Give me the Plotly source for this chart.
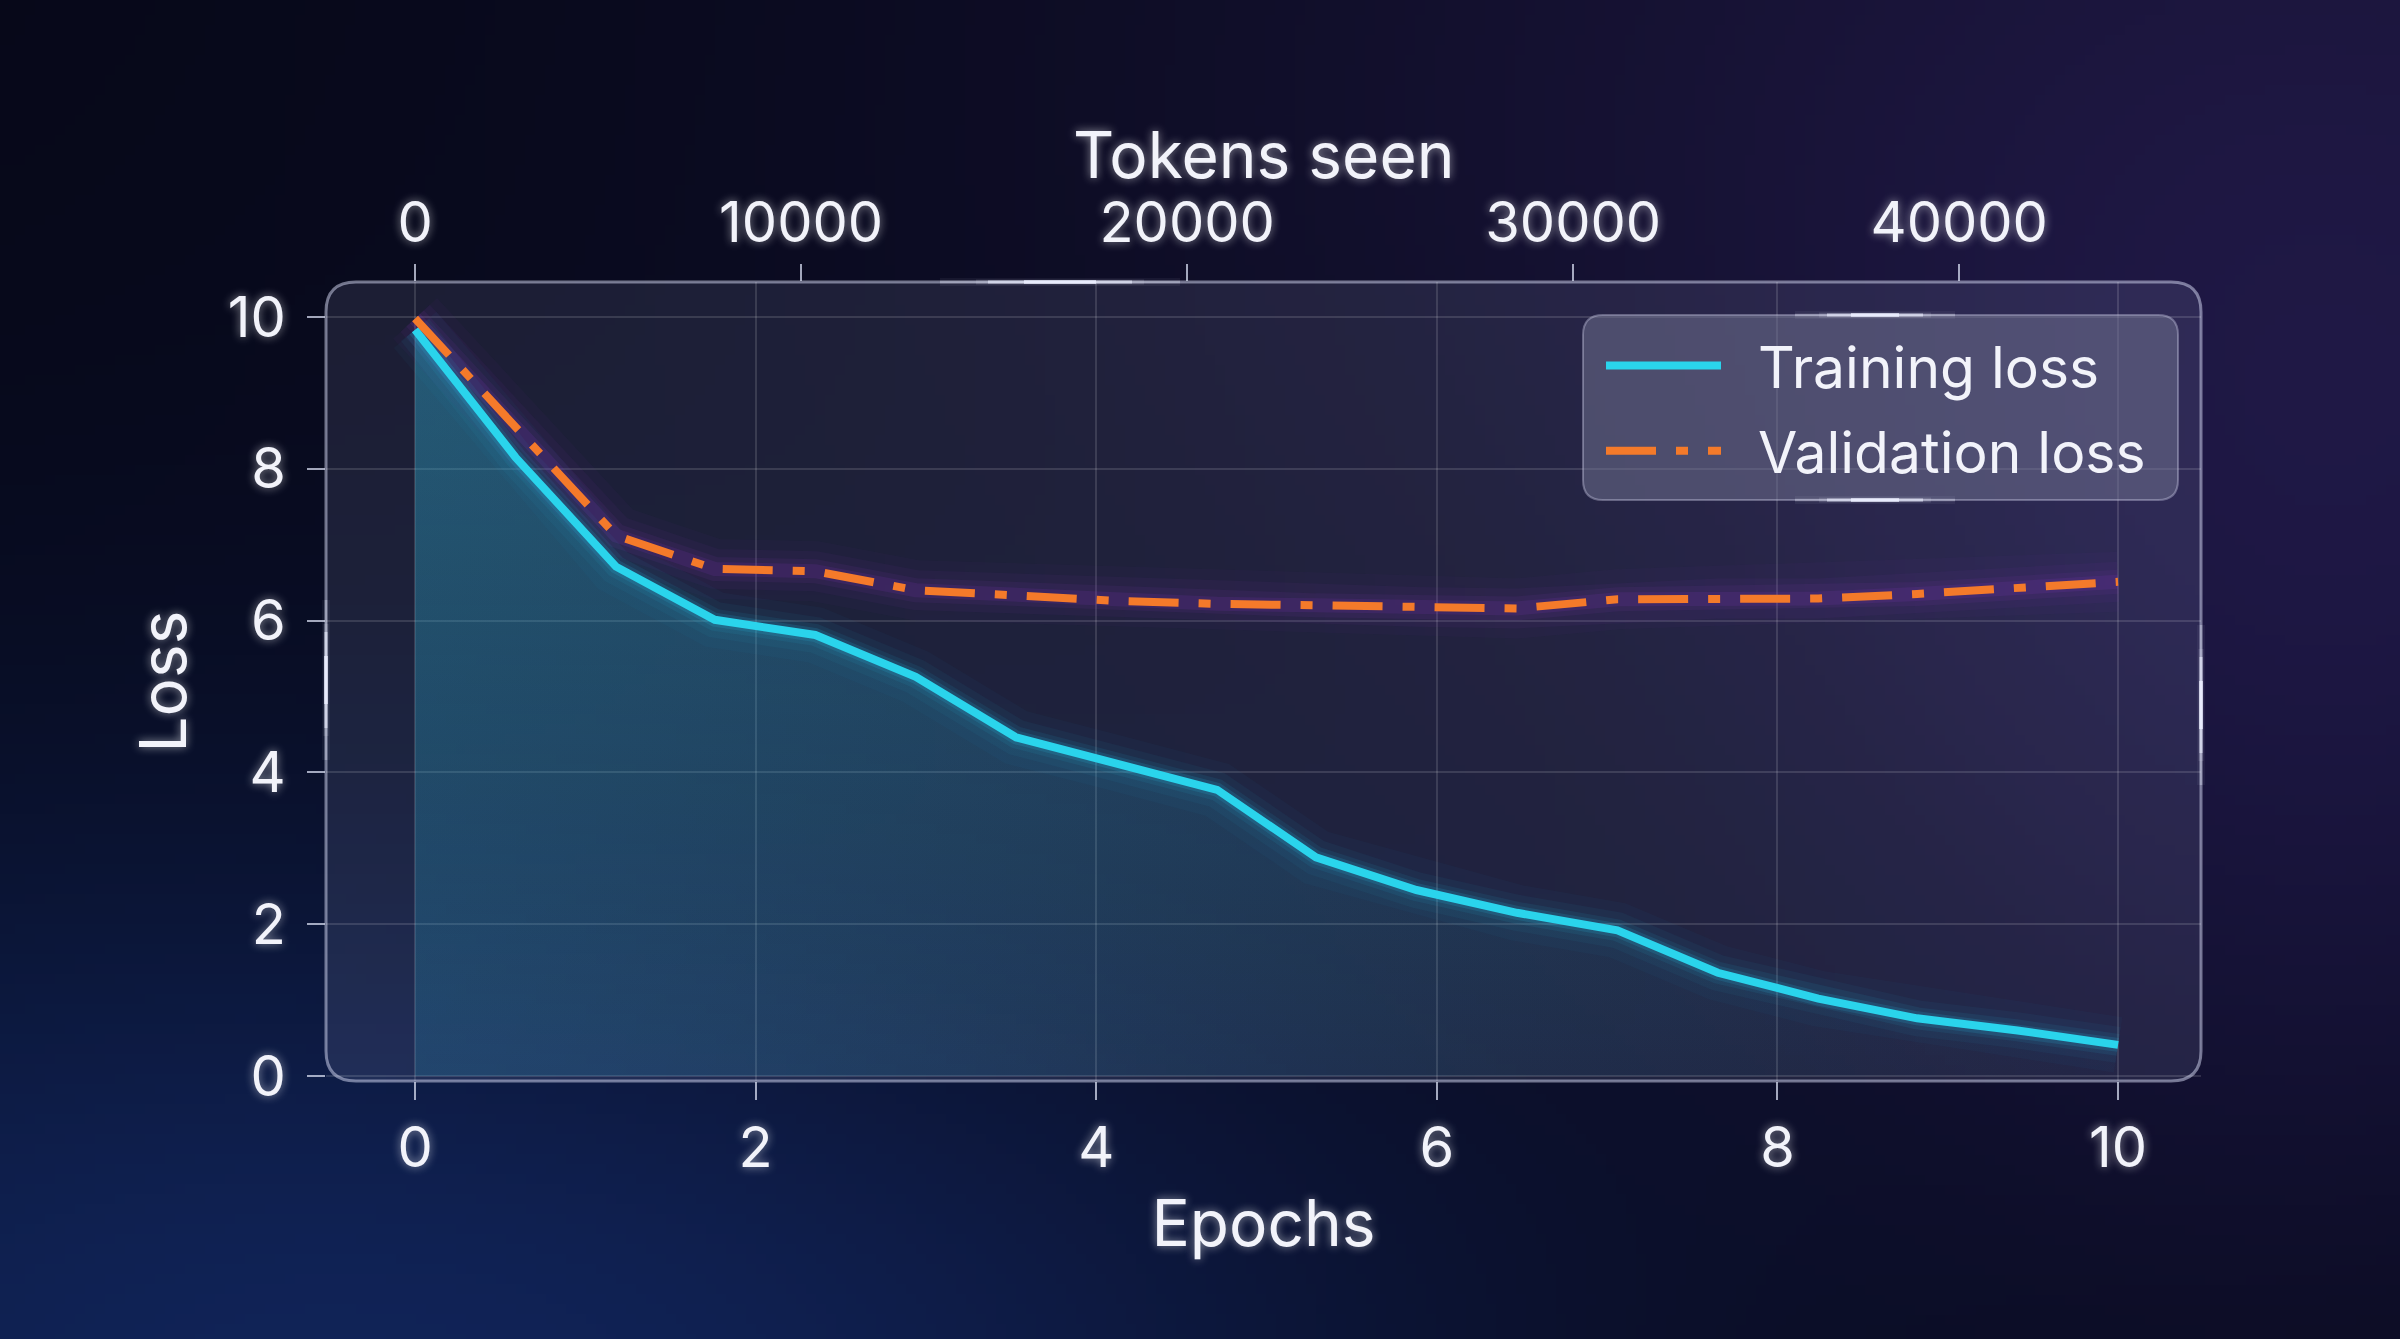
import base64
import struct
import zlib

import numpy as np
import plotly.graph_objects as go

# ---------------- data ----------------
epochs = [0.0, 0.59, 1.18, 1.76, 2.35, 2.94, 3.53, 4.12, 4.71, 5.29,
          5.88, 6.47, 7.06, 7.65, 8.24, 8.82, 9.41, 10.0]
tokens_seen = [0, 2595, 5190, 7785, 10380, 12975, 15570, 18165, 20760, 23355,
               25950, 28545, 31140, 33735, 36330, 38925, 41520, 44115]
train_loss = [9.83, 8.15, 6.71, 6.01, 5.81, 5.26, 4.46, 4.12, 3.77, 2.88,
              2.45, 2.15, 1.92, 1.36, 1.02, 0.76, 0.60, 0.41]
val_loss = [9.98, 8.55, 7.12, 6.68, 6.65, 6.40, 6.33, 6.26, 6.22, 6.20,
            6.18, 6.16, 6.28, 6.29, 6.29, 6.35, 6.43, 6.51]
x_ticks = [0, 2, 4, 6, 8, 10]
y_ticks = [0, 2, 4, 6, 8, 10]
token_ticks = [0, 10000, 20000, 30000, 40000]

# ---------------- geometry ----------------
W, H = 2400, 1339
ML, MR, MT, MB = 326, 199, 282, 258
PW, PH = W - ML - MR, H - MT - MB
x_range = [-0.523, 10.487]
y_range = [-0.066, 10.46]
tok_ratio = tokens_seen[-1] / epochs[-1]
x2_range = [x_range[0] * tok_ratio, x_range[1] * tok_ratio]

CYAN = "#2ad4ec"
ORANGE = "#f47a2a"
TXT = "#f2f3fa"
GLOW = "0px 0px 10px rgba(255,255,255,0.55)"
FONT = "Inter"


# ---------------- background gradient image ----------------
def make_png(arr):
    h, w, _ = arr.shape
    raw = b"".join(b"\x00" + arr[r].tobytes() for r in range(h))

    def chunk(t, d):
        c = struct.pack(">I", len(d)) + t + d
        return c + struct.pack(">I", zlib.crc32(t + d) & 0xFFFFFFFF)

    return (b"\x89PNG\r\n\x1a\n"
            + chunk(b"IHDR", struct.pack(">IIBBBBB", w, h, 8, 2, 0, 0, 0))
            + chunk(b"IDAT", zlib.compress(raw, 9))
            + chunk(b"IEND", b""))


bw, bh = 240, 134
yy, xx = np.mgrid[0:bh, 0:bw]
fx, fy = xx / (bw - 1), yy / (bh - 1)
img = np.zeros((bh, bw, 3), dtype=float)
img[:] = np.array([6, 8, 24], dtype=float)


def blob(cx, cy, rx, ry, col, strength=1.0):
    d = ((fx - cx) / rx) ** 2 + ((fy - cy) / ry) ** 2
    wgt = np.exp(-d) * strength
    return wgt[..., None] * np.array(col, dtype=float)


img += blob(0.95, 0.05, 0.55, 0.6, [19, 12, 32])
img += blob(0.98, 0.55, 0.25, 0.5, [12, 8, 24])
img += blob(0.02, 1.02, 0.45, 0.45, [8, 22, 50])
img += blob(0.35, 1.05, 0.35, 0.3, [4, 10, 24])
img = np.clip(img, 0, 255).astype(np.uint8)
bg_src = "data:image/png;base64," + base64.b64encode(make_png(img)).decode()

# ---------------- figure ----------------
fig = go.Figure()

# fill under training curve (two gradient passes)
fig.add_trace(go.Scatter(
    x=epochs, y=train_loss, mode="lines", line=dict(width=0),
    fill="tozeroy",
    fillgradient=dict(type="horizontal", start=0, stop=10,
                      colorscale=[[0, "rgba(40,165,200,0.20)"],
                                  [1, "rgba(40,165,200,0.01)"]]),
    showlegend=False, hoverinfo="skip"))
fig.add_trace(go.Scatter(
    x=epochs, y=train_loss, mode="lines", line=dict(width=0),
    fill="tozeroy",
    fillgradient=dict(type="vertical", start=0, stop=10,
                      colorscale=[[0, "rgba(40,165,200,0.0)"],
                                  [1, "rgba(55,180,215,0.28)"]]),
    showlegend=False, hoverinfo="skip"))

# glow layers
for wdt, a in [(60, 0.035), (40, 0.05), (24, 0.08), (14, 0.12)]:
    fig.add_trace(go.Scatter(x=epochs, y=val_loss, mode="lines",
                             line=dict(color=f"rgba(150,60,210,{a})", width=wdt),
                             showlegend=False, hoverinfo="skip"))
for wdt, a in [(56, 0.03), (36, 0.05), (22, 0.08), (14, 0.14)]:
    fig.add_trace(go.Scatter(x=epochs, y=train_loss, mode="lines",
                             line=dict(color=f"rgba(40,200,240,{a})", width=wdt),
                             showlegend=False, hoverinfo="skip"))

NB = "\u00a0\u00a0"
fig.add_trace(go.Scatter(x=epochs, y=train_loss, mode="lines", name=NB + "Training loss",
                         line=dict(color=CYAN, width=8), legendgroup="a"))
fig.add_trace(go.Scatter(x=epochs, y=val_loss, mode="lines", name=NB + "Validation loss",
                         line=dict(color=ORANGE, width=8, dash="50px,20px,12px,20px"),
                         legendgroup="b"))
# invisible trace tying tokens axis
fig.add_trace(go.Scatter(x=tokens_seen, y=val_loss, xaxis="x2", mode="lines",
                         line=dict(width=0, color="rgba(0,0,0,0)"),
                         showlegend=False, hoverinfo="skip"))

tickfont = dict(family=FONT, size=56, color=TXT, shadow=GLOW)
titlefont = dict(family=FONT, size=64, color=TXT, shadow=GLOW)
tickcol = "rgba(215,220,240,0.75)"
gridcol = "rgba(255,255,255,0.13)"


def path_rrect(x0, y0, x1, y1, rpx):
    rx, ry = rpx / PW, rpx / PH
    return (f"M{x0+rx},{y0} L{x1-rx},{y0} Q{x1},{y0} {x1},{y0+ry} "
            f"L{x1},{y1-ry} Q{x1},{y1} {x1-rx},{y1} L{x0+rx},{y1} "
            f"Q{x0},{y1} {x0},{y1-ry} L{x0},{y0+ry} Q{x0},{y0} {x0+rx},{y0} Z")


def px2paper(px, py):
    return (px - ML) / PW, (H - MB - py) / PH


shapes = []
# main glass panel
shapes.append(dict(type="path", xref="paper", yref="paper", layer="below",
                   path=path_rrect(0, 0, 1, 1, 30),
                   fillcolor="rgba(175,185,225,0.12)",
                   line=dict(color="rgba(215,220,245,0.5)", width=3)))
# legend glass box
lx0, ly0 = px2paper(1583, 500)
lx1, ly1 = px2paper(2178, 315)
shapes.append(dict(type="path", xref="paper", yref="paper", layer="above",
                   path=path_rrect(lx0, ly0, lx1, ly1, 20),
                   fillcolor="rgba(115,118,148,0.5)",
                   line=dict(color="rgba(220,222,245,0.35)", width=2)))


def highlight(cx, cy, half, vertical=False):
    out = []
    for frac, wdt, a in [(1.0, 8, 0.05), (0.7, 5, 0.12), (1.0, 2.5, 0.3),
                         (0.6, 3, 0.6), (0.3, 3.5, 0.9)]:
        h = half * frac
        if vertical:
            p0, p1 = px2paper(cx, cy - h), px2paper(cx, cy + h)
        else:
            p0, p1 = px2paper(cx - h, cy), px2paper(cx + h, cy)
        out.append(dict(type="line", xref="paper", yref="paper", layer="above",
                        x0=p0[0], y0=p0[1], x1=p1[0], y1=p1[1],
                        line=dict(color=f"rgba(235,238,255,{a})", width=wdt)))
    return out


shapes += highlight(1060, 282, 120)
shapes += highlight(326, 680, 80, vertical=True)
shapes += highlight(2201, 705, 80, vertical=True)
shapes += highlight(1875, 315, 80)
shapes += highlight(1875, 500, 80)

bgx, bgy = px2paper(0, 0)
tx, ty = px2paper((ML + W - MR) / 2, 155)

fig.update_layout(
    width=W, height=H,
    margin=dict(l=ML, r=MR, t=MT, b=MB, pad=0),
    paper_bgcolor="#080a1c",
    plot_bgcolor="rgba(0,0,0,0)",
    font=dict(family=FONT, color=TXT),
    images=[dict(source=bg_src, xref="paper", yref="paper", x=bgx, y=bgy,
                 sizex=W / PW, sizey=H / PH, xanchor="left", yanchor="top",
                 sizing="stretch", layer="below")],
    shapes=shapes,
    annotations=[dict(text="Tokens seen", xref="paper", yref="paper", x=tx, y=ty,
                      xanchor="center", yanchor="middle", showarrow=False,
                      font=titlefont)],
    showlegend=True,
    legend=dict(x=px2paper(1601, 0)[0], y=px2paper(0, 322)[1],
                xanchor="left", yanchor="top",
                bgcolor="rgba(0,0,0,0)", borderwidth=0,
                font=dict(family=FONT, size=57, color=TXT),
                itemwidth=115, tracegroupgap=8),
    xaxis=dict(range=x_range, tickvals=x_ticks, ticks="outside", ticklen=18,
               tickwidth=2, tickcolor=tickcol, showgrid=True, gridcolor=gridcol,
               gridwidth=1.5, zeroline=False, showline=False, tickfont=tickfont,
               title=dict(text="Epochs", font=titlefont, standoff=20)),
    xaxis2=dict(range=x2_range, overlaying="x", side="top", anchor="y",
                tickvals=token_ticks, tickformat="d", ticks="outside", ticklen=17,
                tickwidth=2, tickcolor=tickcol, showgrid=False, zeroline=False,
                showline=False, tickfont=tickfont),
    yaxis=dict(range=y_range, tickvals=y_ticks, ticks="outside", ticklen=18,
               tickwidth=2, tickcolor=tickcol, showgrid=True, gridcolor=gridcol,
               gridwidth=1.5, zeroline=False, showline=False, tickfont=tickfont,
               ticklabelstandoff=10,
               title=dict(text="Loss", font=titlefont, standoff=20)),
)

fig.write_html("out.html")
